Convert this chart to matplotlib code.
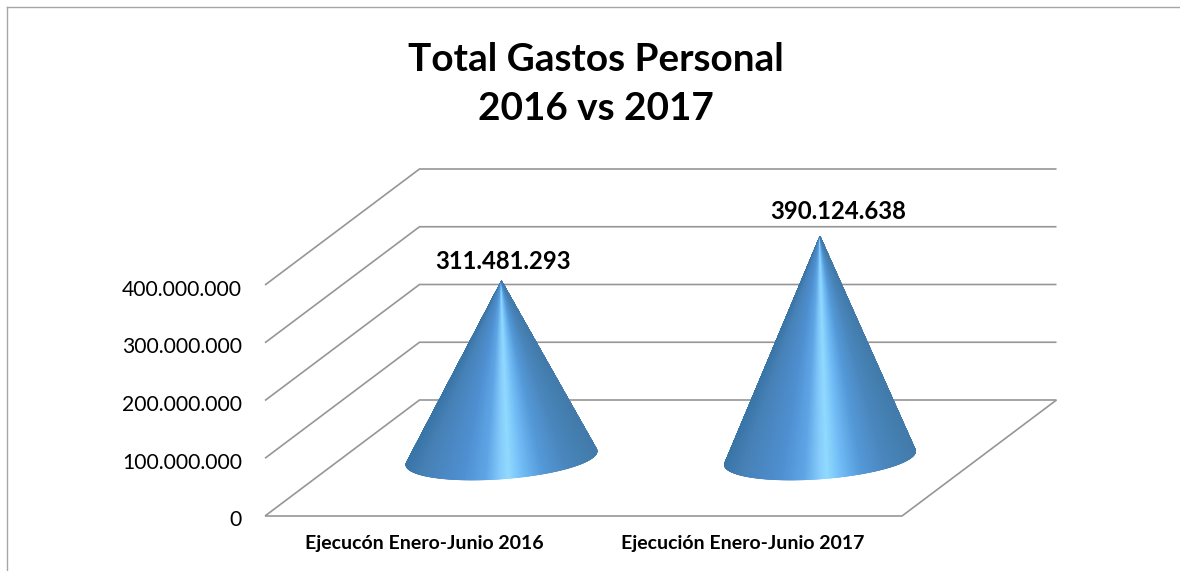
import numpy as np
import matplotlib
matplotlib.use("Agg")
import matplotlib.pyplot as plt
from matplotlib.collections import PolyCollection
from matplotlib.colors import LinearSegmentedColormap
from matplotlib.transforms import ScaledTranslation

# ---- data ----
categories = ["Ejecucón Enero-Junio 2016", "Ejecución Enero-Junio 2017"]
values = [311481293, 390124638]
y_ticks = [0, 100000000, 200000000, 300000000, 400000000]
title_text = "Total Gastos Personal\n2016 vs 2017"

# ---- layout ----
W, H = 1180, 571
FONT = "Lato"
GRID = "#969696"
AX_L, AX_R, AX_TOP, AX_BOT = 265, 902, 285, 516
DEPTH_X = 154.5 / ((AX_R - AX_L) / 2)              # depth shift, category units
DEPTH_Y = 116 / ((AX_BOT - AX_TOP) / 400000000)    # depth shift, value units
CONE_A = 0.2857
CONE_B = 0.19
HEIGHT_SCALE = 0.984

fig = plt.figure(figsize=(W / 100, H / 100), dpi=100, facecolor="white")
ax = fig.add_axes([AX_L / W, 1 - AX_BOT / H, (AX_R - AX_L) / W, (AX_BOT - AX_TOP) / H])
ax.set_xlim(-0.5, 1.5)
ax.set_ylim(0, 400000000)
ax.patch.set_visible(False)
for s in ax.spines.values():
    s.set_visible(False)


def project(cat, val, depth):
    return cat + depth * DEPTH_X, val + depth * DEPTH_Y


# ---- tick labels ----
ax.set_yticks(y_ticks)
ax.set_yticklabels([f"{v:,.0f}".replace(",", ".") for v in y_ticks],
                   fontsize=15.2, family=FONT, color="black")
ax.set_xticks(range(len(categories)))
ax.set_xticklabels(categories, fontsize=14.0, family=FONT, fontweight="bold", color="black")
ax.tick_params(axis="y", length=0, pad=16.5)
ax.tick_params(axis="x", length=0, pad=14)
shift = ScaledTranslation(0, -2.5 / 100, fig.dpi_scale_trans)
for lab in ax.get_yticklabels():
    lab.set_transform(lab.get_transform() + shift)

# ---- walls and floor ----
x_left, x_right = ax.get_xlim()
line_kw = dict(color=GRID, lw=1.2, clip_on=False, zorder=1, solid_capstyle="butt")
for v in y_ticks:
    xs, ys = zip(project(x_left, v, 0), project(x_left, v, 1), project(x_right, v, 1))
    ax.plot(xs, ys, **line_kw)
xs, ys = zip(project(x_left, 0, 0), project(x_right, 0, 0), project(x_right, 0, 1))
ax.plot(xs, ys, **line_kw)

# ---- cones ----
cone_cmap = LinearSegmentedColormap.from_list("cone", [
    (0.00, "#3a75a8"), (0.08, "#4680b5"), (0.30, "#4f90d2"), (0.42, "#5fa6e6"),
    (0.50, "#87cdfc"), (0.54, "#90dafe"), (0.62, "#6fbaf5"), (0.72, "#5499d8"),
    (0.85, "#4a86bd"), (0.95, "#447fb0"), (1.00, "#427bab"),
])

for cat, val in zip(range(len(values)), values):
    cx, cy = project(cat, 0, 0.5)
    ax_, ay_ = cx, cy + val * HEIGHT_SCALE
    t = np.linspace(np.pi / 2, 5 * np.pi / 2, 1441)
    ex = cx + CONE_A * np.cos(t) + CONE_B * DEPTH_X * np.sin(t)
    ey = cy + CONE_B * DEPTH_Y * np.sin(t)
    angle = np.arctan2(ex - ax_, ay_ - ey)
    il, ir = int(np.argmin(angle)), int(np.argmax(angle))
    ex, ey = ex[il:ir + 1], ey[il:ir + 1]
    frac = (ex - ex.min()) / (ex.max() - ex.min())
    fan = [[(ax_, ay_), (ex[i], ey[i]), (ex[i + 1], ey[i + 1])] for i in range(len(ex) - 1)]
    colors = cone_cmap((frac[:-1] + frac[1:]) / 2)
    ax.add_collection(PolyCollection(fan, facecolors=colors, edgecolors=colors,
                                     linewidths=0.4, clip_on=False, zorder=3))

# ---- value labels ----
label_offsets = [(2, 19), (18, 25)]
for cat, val, off in zip(range(len(values)), values, label_offsets):
    cx, cy = project(cat, 0, 0.5)
    ax.annotate(f"{val:,.0f}".replace(",", "."), (cx, cy + val * HEIGHT_SCALE),
                xytext=off, textcoords="offset pixels", ha="center", va="center",
                fontsize=17.2, family=FONT, fontweight="bold", color="black",
                annotation_clip=False, zorder=4)

# ---- title ----
fig.text(596 / W, 1 - 84 / H, title_text, ha="center", va="center", fontsize=27.9,
         family=FONT, fontweight="bold", color="black", linespacing=1.48)

# ---- outer border (left and top only in the picture) ----
border = dict(color="#a6a6a6", lw=1.0, transform=fig.transFigure)
fig.add_artist(plt.Line2D([6.5 / W, 6.5 / W], [0, 1 - 6.5 / H], **border))
fig.add_artist(plt.Line2D([6.5 / W, 1], [1 - 6.5 / H, 1 - 6.5 / H], **border))

fig.savefig("out.png", dpi=100, facecolor="white")
